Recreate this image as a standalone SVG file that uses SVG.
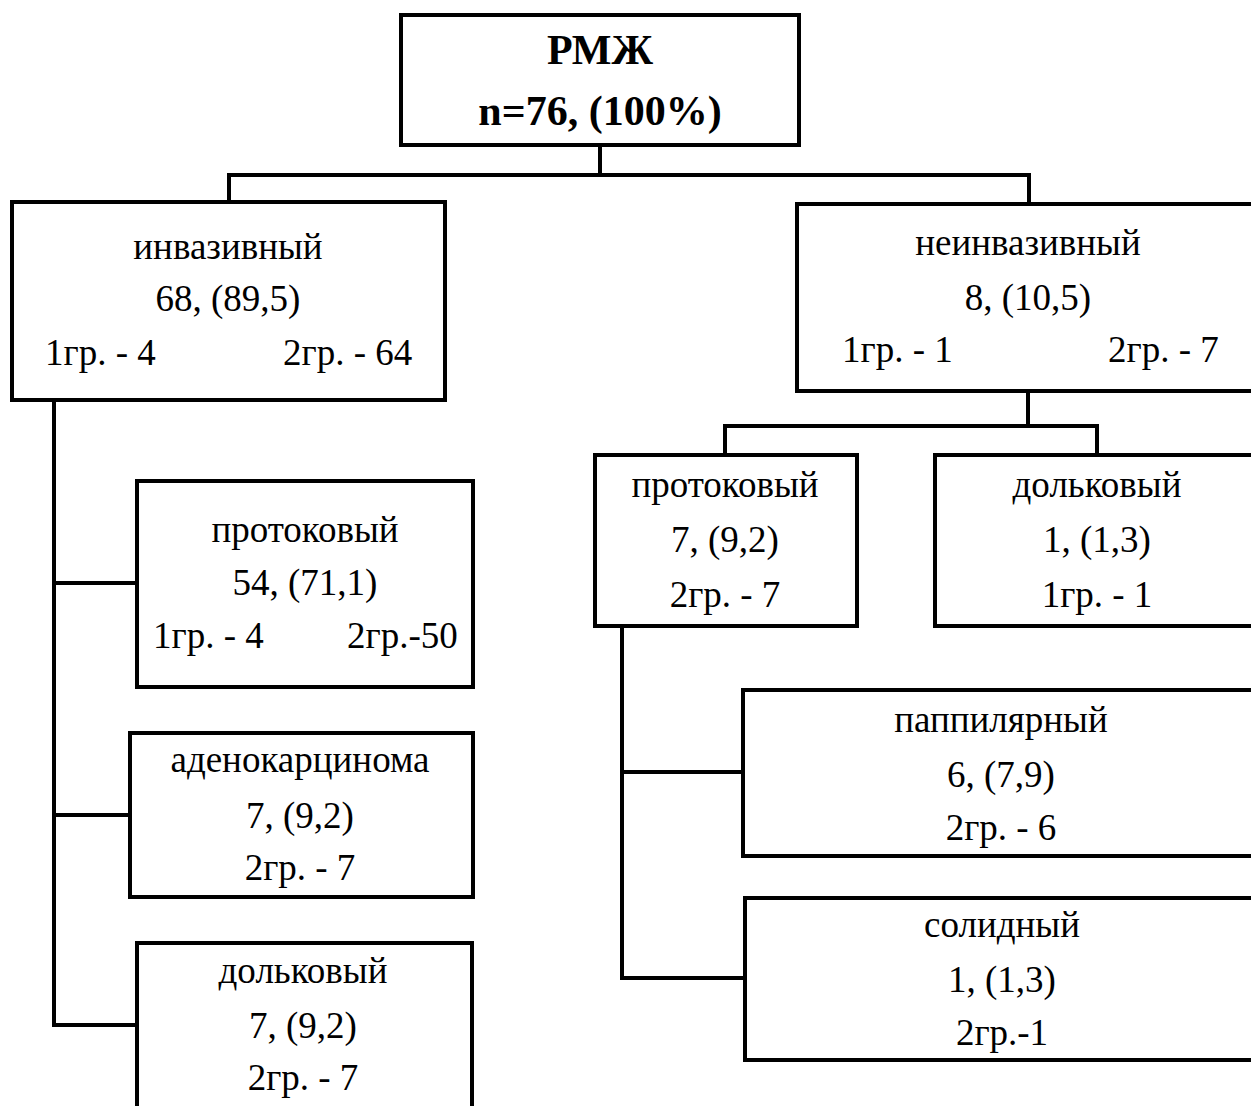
<svg xmlns="http://www.w3.org/2000/svg" width="1251" height="1106" viewBox="0 0 1251 1106">
<style>
.box{fill:#fff;stroke:#000;stroke-width:4}
.con{fill:none;stroke:#000;stroke-width:4;stroke-linecap:square}
text{font-family:"Liberation Serif","Times New Roman",serif;font-size:37px;fill:#000}
.c{text-anchor:middle}
.b{font-weight:bold;font-size:42px}
</style>
<rect width="1251" height="1106" fill="#fff"/>
<g id="connectors">
<path class="con" d="M600 145V175M229 175H1029M229 175V202M1029 175V204"/>
<path class="con" d="M54 400V1025H137M54 583H137M54 815H130"/>
<path class="con" d="M1028 391V426M725 426H1097M725 426V455M1097 426V455"/>
<path class="con" d="M622 626V978H745M622 772H743"/>
</g>
<g id="root">
<rect class="box" x="401" y="15" width="398" height="130"/>
<text class="c b" x="600" y="64">РМЖ</text>
<text class="c b" x="600" y="125">n=76, (100%)</text>
</g>
<g id="invasive">
<rect class="box" x="12" y="202" width="433" height="198"/>
<text class="c" x="228" y="259">инвазивный</text>
<text class="c" x="228" y="311">68, (89,5)</text>
<text x="45" y="365">1гр. - 4</text>
<text x="283" y="365">2гр. - 64</text>
</g>
<g id="noninvasive">
<rect class="box" x="797" y="204" width="480" height="187"/>
<text class="c" x="1028" y="255">неинвазивный</text>
<text class="c" x="1028" y="310">8, (10,5)</text>
<text x="842" y="362">1гр. - 1</text>
<text x="1108" y="362">2гр. - 7</text>
</g>
<g id="ductal-inv">
<rect class="box" x="137" y="481" width="336" height="206"/>
<text class="c" x="305" y="542">протоковый</text>
<text class="c" x="305" y="595">54, (71,1)</text>
<text x="153" y="648">1гр. - 4</text>
<text x="347" y="648">2гр.-50</text>
</g>
<g id="adenocarcinoma">
<rect class="box" x="130" y="733" width="343" height="164"/>
<text class="c" x="300" y="772">аденокарцинома</text>
<text class="c" x="300" y="828">7, (9,2)</text>
<text class="c" x="300" y="880">2гр. - 7</text>
</g>
<g id="lobular-inv">
<rect class="box" x="137" y="943" width="335" height="200"/>
<text class="c" x="303" y="983">дольковый</text>
<text class="c" x="303" y="1038">7, (9,2)</text>
<text class="c" x="303" y="1090">2гр. - 7</text>
</g>
<g id="ductal-noninv">
<rect class="box" x="595" y="455" width="262" height="171"/>
<text class="c" x="725" y="497">протоковый</text>
<text class="c" x="725" y="552">7, (9,2)</text>
<text class="c" x="725" y="607">2гр. - 7</text>
</g>
<g id="lobular-noninv">
<rect class="box" x="935" y="455" width="340" height="171"/>
<text class="c" x="1097" y="497">дольковый</text>
<text class="c" x="1097" y="552">1, (1,3)</text>
<text class="c" x="1097" y="607">1гр. - 1</text>
</g>
<g id="papillary">
<rect class="box" x="743" y="690" width="540" height="166"/>
<text class="c" x="1001" y="732">паппилярный</text>
<text class="c" x="1001" y="787">6, (7,9)</text>
<text class="c" x="1001" y="840">2гр. - 6</text>
</g>
<g id="solid">
<rect class="box" x="745" y="898" width="540" height="162"/>
<text class="c" x="1002" y="937">солидный</text>
<text class="c" x="1002" y="992">1, (1,3)</text>
<text class="c" x="1002" y="1045">2гр.-1</text>
</g>
</svg>
